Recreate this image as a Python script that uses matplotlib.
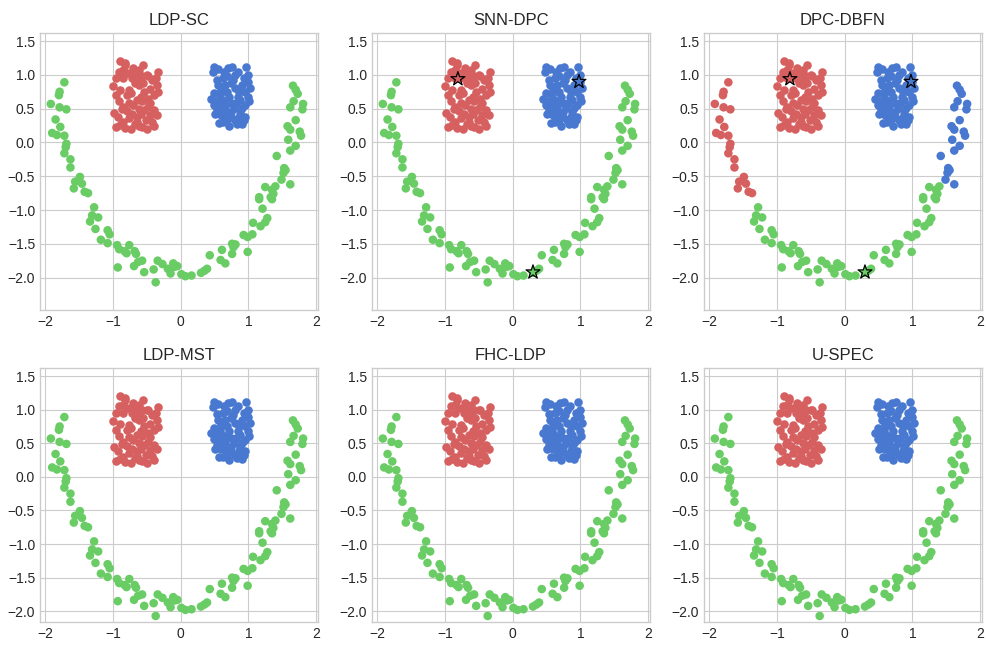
import matplotlib
matplotlib.use('Agg')
import matplotlib.pyplot as plt
import numpy as np

plt.style.use('seaborn-v0_8-whitegrid')
plt.rcParams['font.family'] = ['Liberation Sans', 'DejaVu Sans']

# moon (arc) points
arc_x = [-1.72, -1.79, -1.80, -1.92, -1.79, -1.69, -1.85, -1.78, -1.90, -1.83, -1.72, -1.69, -1.70,
         -1.72, -1.63, -1.63, -1.49, -1.56, -1.46, -1.58, -1.42, -1.37, -1.28, -1.31, -1.22, -1.34,
         -1.26, -1.08, -1.05, -1.18, -1.08, -0.94, -0.91, -0.83, -0.76, -0.80, -0.68, -0.66, -0.63,
         -0.57, -0.69, -0.93, -0.54, -0.40, -0.34, -0.27, -0.37, -0.19, -0.11, -0.09, -0.15, -0.05,
         0.01, 0.07, 0.16, 0.30, 0.35, 0.39, 0.43, 0.59, 0.66, 0.61, 0.76, 0.78, 0.76, 0.81, 0.99,
         0.93, 0.99, 1.06, 1.07, 1.18, 1.25, 1.28, 1.21, 1.16, 1.35, 1.37, 1.35,
         1.66, 1.70, 1.73, 1.67, 1.81, 1.62, 1.80, 1.70, 1.58, 1.62, 1.76, 1.78, 1.59, 1.70, 1.62,
         1.42, 1.53, 1.55, 1.52, 1.49, 1.62, 1.40, 1.25, 1.33, 1.16]
arc_y = [0.89, 0.75, 0.70, 0.57, 0.52, 0.49, 0.34, 0.23, 0.14, 0.11, 0.10, -0.02, -0.07,
         -0.16, -0.25, -0.37, -0.51, -0.58, -0.61, -0.68, -0.73, -0.75, -0.96, -1.08, -1.11, -1.17,
         -1.28, -1.30, -1.36, -1.44, -1.49, -1.52, -1.58, -1.61, -1.52, -1.64, -1.61, -1.65, -1.77,
         -1.75, -1.83, -1.85, -1.92, -1.88, -1.75, -1.80, -2.07, -1.87, -1.79, -1.84, -1.94, -1.83,
         -1.95, -1.98, -1.97, -1.93, -1.90, -1.87, -1.67, -1.74, -1.79, -1.59, -1.65, -1.55, -1.50, -1.51, -1.62,
         -1.37, -1.40, -1.36, -1.19, -1.24, -1.18, -1.12, -0.98, -0.84, -0.84, -0.76, -0.70,
         0.84, 0.78, 0.72, 0.61, 0.57, 0.52, 0.49, 0.33, 0.24, 0.19, 0.16, 0.10, 0.04, -0.05, -0.12,
         -0.20, -0.38, -0.41, -0.45, -0.55, -0.62, -0.65, -0.66, -0.81, -0.81]

# left block
red_x = [-0.89, -0.83, -0.55, -0.91, -0.79, -0.64, -0.50, -0.34, -0.37, -1.00, -0.89, -0.74, -0.62,
         -0.54, -0.45, -0.34, -0.91, -0.77, -0.64, -0.57, -0.45, -0.98, -0.87, -0.80, -0.54, -0.40,
         -0.35, -0.77, -0.64, -0.52, -0.42, -0.96, -0.89, -0.74, -0.57, -0.50, -0.64, -0.82, -0.86,
         -0.70, -0.62, -0.57, -0.48, -0.72, -0.77,
         -0.70, -0.60, -0.85, -0.68, -0.80, -0.95, -0.58, -0.48, -0.40, -0.70, -0.85, -0.62, -0.48,
         -0.72, -0.92, -0.58, -0.45, -0.85, -0.68, -0.82, -0.62, -0.40, -0.70, -0.95, -0.42, -0.35, -0.55]
red_y = [1.20, 1.17, 1.15, 1.05, 1.03, 1.05, 1.00, 1.04, 0.95, 0.83, 0.78, 0.73, 0.85,
         0.75, 0.79, 0.74, 0.61, 0.59, 0.63, 0.61, 0.59, 0.44, 0.49, 0.46, 0.48, 0.48,
         0.41, 0.36, 0.38, 0.33, 0.31, 0.23, 0.26, 0.20, 0.23, 0.20, 0.31, 1.15, 1.07,
         1.06, 1.07, 0.99, 0.99, 0.95, 0.77,
         1.10, 0.95, 0.95, 0.88, 0.70, 0.70, 0.68, 0.65, 0.70, 0.55, 0.52, 0.50, 0.52,
         0.42, 0.38, 0.42, 0.40, 0.30, 0.28, 0.22, 0.25, 0.25, 1.00, 0.95, 0.92, 0.85, 0.88]

# right block
blue_x = [0.49, 0.48, 0.64, 0.76, 0.96, 0.54, 0.69, 0.81, 0.74, 0.93, 0.99, 1.02, 0.49, 0.59,
          0.69, 0.86, 0.49, 0.61, 0.74, 0.88, 0.99, 1.01, 0.54, 0.66, 0.79, 0.91, 0.59, 0.74,
          0.86, 0.93, 0.57, 0.69, 0.83,
          0.55, 0.70, 0.85, 0.62, 0.78, 0.90, 0.55, 0.65, 0.80, 0.95, 0.58, 0.72, 0.85, 0.52,
          0.68, 0.82, 0.95, 0.60, 0.75, 0.88, 0.50, 0.65, 0.80, 0.95, 0.62, 0.72, 0.90, 0.45, 1.00]
blue_y = [1.12, 1.04, 1.05, 1.12, 1.12, 0.93, 0.98, 1.00, 0.88, 0.95, 0.89, 0.80, 0.73, 0.79,
          0.75, 0.75, 0.56, 0.63, 0.58, 0.63, 0.68, 0.61, 0.48, 0.51, 0.51, 0.51, 0.41, 0.38,
          0.38, 0.33, 0.29, 0.33, 0.28,
          1.08, 1.10, 1.05, 0.95, 0.92, 0.85, 0.85, 0.85, 0.80, 0.75, 0.70, 0.68, 0.68, 0.62,
          0.60, 0.58, 0.55, 0.53, 0.45, 0.45, 0.42, 0.40, 0.33, 0.38, 0.30, 0.25, 0.27, 0.65, 1.00]

# cluster centres found by the density-peak methods
star_x = [-0.81, 0.98, 0.30]
star_y = [0.94, 0.90, -1.92]

titles = ['LDP-SC', 'SNN-DPC', 'DPC-DBFN', 'LDP-MST', 'FHC-LDP', 'U-SPEC']

RED, BLUE, GREEN = '#d65f5f', '#4878d0', '#6acc64'

arc_x = np.array(arc_x)
arc_y = np.array(arc_y)
# DPC-DBFN splits the arc ends off into the two blocks
arc_red = (arc_x < -1.3) & (arc_y > -0.8)
arc_blue = (arc_x > 1.4) & (arc_y > -0.63)

fig = plt.figure(figsize=(9.87, 6.63), dpi=100)
W, H = 987, 663
lefts = [40, 372, 704]
rows = [(33, 310, -2.48), (368, 622, -2.16)]

for i, name in enumerate(titles):
    top, bot, ylo = rows[i // 3]
    l = lefts[i % 3]
    ax = fig.add_axes([l / W, 1 - bot / H, 278 / W, (bot - top) / H])
    ac = np.array([GREEN] * len(arc_x), dtype=object)
    if name == 'DPC-DBFN':
        ac[arc_red] = RED
        ac[arc_blue] = BLUE
    ax.scatter(arc_x, arc_y, c=list(ac), s=38, linewidths=0)
    ax.scatter(red_x, red_y, c=RED, s=38, linewidths=0)
    ax.scatter(blue_x, blue_y, c=BLUE, s=38, linewidths=0)
    if name in ('SNN-DPC', 'DPC-DBFN'):
        ax.scatter(star_x, star_y, marker='*', s=110, c=[RED, BLUE, GREEN],
                   edgecolors='black', linewidths=0.9, zorder=3)
    ax.set_xlim(-2.08, 2.03)
    ax.set_ylim(ylo, 1.62)
    ax.set_xticks([-2, -1, 0, 1, 2])
    ax.set_yticks([-2.0, -1.5, -1.0, -0.5, 0.0, 0.5, 1.0, 1.5])
    ax.set_title(name, fontsize=12)
    ax.tick_params(labelsize=10)
    for s in ax.spines.values():
        s.set_visible(True)
        s.set_color('#cccccc')

fig.savefig('out.png', dpi=100)
